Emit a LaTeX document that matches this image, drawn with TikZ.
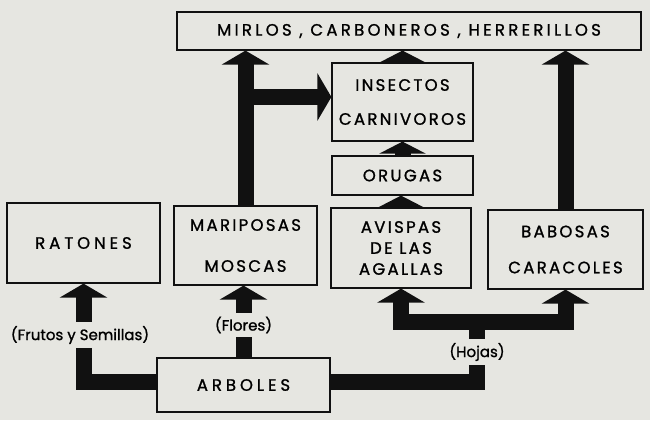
\documentclass[tikz,border=0pt]{standalone}
\usepackage{fontspec}
\setmainfont{Poppins}[FakeBold=1.2]
\newfontfamily\boxfont{Poppins}[LetterSpace=14, FakeBold=1.2]
\newfontfamily\widefont{Poppins}[LetterSpace=24, FakeBold=1.2]
\usetikzlibrary{arrows.meta,positioning,calc}
\definecolor{Paper}{HTML}{E6E6E1}
\definecolor{Ink}{HTML}{111111}
\tikzset{
chainbox/.style={draw=Ink, line width=1.2pt, fill=Paper, align=center, inner sep=0pt, font=\boxfont\fontsize{16.5}{18}\selectfont},
widebox/.style={chainbox, font=\widefont\fontsize{16.5}{18}\selectfont},
chainshaft/.style={draw=Ink, line width=16pt},
chainarrow/.style={chainshaft, -{Triangle[width=47pt,length=14pt]}},
chainhead/.style={chainshaft, -{Triangle[width=46pt,length=12pt]}},
chainlabel/.style={fill=Paper, inner sep=4pt, font=\fontsize{15}{17}\selectfont}
}

\begin{document}
\begin{tikzpicture}[x=1pt, y=1pt]
  \fill[Paper] (0,0) rectangle (650,420);
  \useasboundingbox (0,0) rectangle (650,420);
  % boxes
  \node[chainbox, minimum width=464pt, minimum height=38pt, font=\boxfont\fontsize{16.5}{18}\addfontfeature{LetterSpace=20}\selectfont] (aves) at (409,389) {MIRLOS , CARBONEROS , HERRERILLOS};
  \node[chainbox, minimum width=141pt, minimum height=78pt] (insectos) at (402.5,318) {INSECTOS\\[16pt]CARNIVOROS};
  \node[chainbox, minimum width=141pt, minimum height=39pt] (orugas) at (402.5,244.5) {ORUGAS};
  \node[widebox, minimum width=153pt, minimum height=80pt] (ratones) at (83.5,177) {RATONES};
  \node[chainbox, minimum width=143pt, minimum height=79pt] (mariposas) at (245.5,174.5) {MARIPOSAS\\[23pt]MOSCAS};
  \node[chainbox, minimum width=140pt, minimum height=80pt] (avispas) at (401,172) {AVISPAS\\[3pt]DE LAS\\[3pt]AGALLAS};
  \node[chainbox, minimum width=155pt, minimum height=79pt] (babosas) at (565.5,170.5) {BABOSAS\\[18pt]CARACOLES};
  \node[widebox, minimum width=173pt, minimum height=54pt] (arboles) at (243.5,35) {ARBOLES};
  \coordinate (rama) at ([yshift=5pt]insectos.west);
  \coordinate (hojas) at (477,98);
  % arrows
  \draw[chainarrow] ([yshift=3pt]arboles.west) -| (ratones.south);
  \draw[chainarrow] (arboles.north) -- (arboles.north |- mariposas.south);
  \draw[chainshaft] ([yshift=3pt]arboles.east) -| (hojas);
  \draw[chainarrow] (hojas) -| (avispas.south);
  \draw[chainarrow] (hojas) -| (babosas.south);
  \draw[chainarrow] (mariposas.north) -- (mariposas.north |- aves.south);
  \draw[chainarrow] (rama -| mariposas.north) -- (rama);
  \draw[chainarrow] (babosas.north) -- (babosas.north |- aves.south);
  \draw[chainhead] (avispas.north) -- (avispas.north |- orugas.south);
  \draw[chainhead] (orugas.north) -- (orugas.north |- insectos.south);
  \draw[chainhead] (insectos.north) -- (insectos.north |- aves.south);
  % labels
  \node[chainlabel] (frutos) at (80,85) {(Frutos y Semillas)};
  \node[chainlabel] (flores) at (243.5,95) {(Flores)};
  \node[chainlabel] (hojaslbl) at (477,68) {(Hojas)};
\end{tikzpicture}
\end{document}
